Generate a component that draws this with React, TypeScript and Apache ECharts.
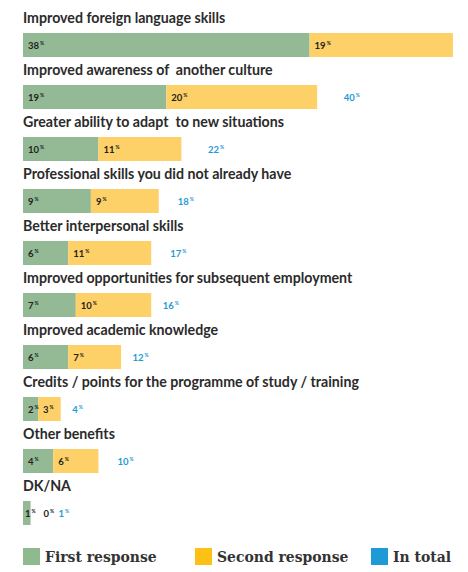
import React, { useEffect, useRef } from "react";
import * as echarts from "echarts";

const categories = [
  "Improved foreign language skills",
  "Improved awareness of  another culture",
  "Greater ability to adapt  to new situations",
  "Professional skills you did not already have",
  "Better interpersonal skills",
  "Improved opportunities for subsequent employment",
  "Improved academic knowledge",
  "Credits / points for the programme of study / training",
  "Other benefits",
  "DK/NA",
];
const firstResponse = [38, 19, 10, 9, 6, 7, 6, 2, 4, 1];
const secondResponse = [19, 20, 11, 9, 11, 10, 7, 3, 6, 0];
const inTotal = [57, 40, 22, 18, 17, 16, 12, 4, 10, 1];

const GREEN = "#93b995";
const YELLOW = "#fdd068";
const BLUE = "#1e9ad6";
const LEG_GREEN = "#8fba90";
const LEG_YELLOW = "#fdc116";

const valueLabel = (color: string) => ({
  show: true,
  position: "insideLeft" as const,
  distance: 5,
  formatter: (p: any) => `{v|${p.value}}{p|%}`,
  rich: {
    v: { fontSize: 9.5, fontWeight: "bold", color, fontFamily: "Lato" },
    p: { fontSize: 5, fontWeight: "bold", color, fontFamily: "Lato", padding: [0, 0, 5, 1] },
  },
});

export default function App() {
  const ref = useRef<HTMLDivElement>(null);
  useEffect(() => {
    if (!ref.current) return;
    const chart = echarts.init(ref.current, undefined, { renderer: "svg" });
    const legendText = {
      fontFamily: "DejaVu Serif Condensed",
      fontWeight: "bold",
      fontSize: 15.5,
      color: "#333",
    };
    const firstData = firstResponse.map((v) =>
      v <= 1 ? { value: v, label: { offset: [-3, 0] } } : v
    );
    const secondData = secondResponse.map((v) =>
      v === 0 ? { value: v, label: { offset: [8, 0] } } : v
    );
    const totalData = inTotal.map((v, i) =>
      firstResponse[i] + secondResponse[i] <= 1 ? { value: v, label: { offset: [9, 0] } } : v
    );
    chart.setOption({
      animation: false,
      grid: { left: 23, right: 0, top: 19, bottom: 33, containLabel: false },
      xAxis: {
        type: "value",
        min: 0,
        max: 59,
        show: false,
      },
      yAxis: {
        type: "category",
        data: categories,
        inverse: true,
        axisLine: { show: false },
        axisTick: { show: false },
        axisLabel: {
          inside: true,
          interval: 0,
          showMinLabel: true,
          showMaxLabel: true,
          hideOverlap: false,
          margin: 0,
          align: "left",
          verticalAlign: "middle",
          formatter: (v: string) => `{t|${v}}\n{g| }`,
          rich: {
            t: {
              fontFamily: "Lato",
              fontWeight: "bold",
              fontSize: 14.2,
              color: "#2b2b2b",
              lineHeight: 14,
            },
            g: { fontSize: 1, lineHeight: 56, height: 56 },
          },
        },
      },
      legend: [
        {
          data: [{ name: "First response", itemStyle: { color: LEG_GREEN } }],
          left: 18,
          bottom: 2,
          itemWidth: 17,
          itemHeight: 17,
          textStyle: legendText,
          icon: "rect",
        },
        {
          data: [{ name: "Second response", itemStyle: { color: LEG_YELLOW } }],
          left: 190,
          bottom: 2,
          itemWidth: 17,
          itemHeight: 17,
          textStyle: legendText,
          icon: "rect",
        },
        {
          data: [{ name: "In total", itemStyle: { color: BLUE } }],
          left: 366,
          bottom: 2,
          itemWidth: 17,
          itemHeight: 17,
          textStyle: legendText,
          icon: "rect",
        },
      ],
      series: [
        {
          name: "First response",
          type: "bar",
          stack: "resp",
          data: firstData,
          barWidth: 24,
          itemStyle: { color: GREEN },
          label: valueLabel("#222"),
        },
        {
          name: "Second response",
          type: "bar",
          stack: "resp",
          data: secondData,
          barWidth: 24,
          itemStyle: { color: YELLOW },
          label: valueLabel("#222"),
        },
        {
          name: "In total",
          type: "bar",
          data: totalData,
          barWidth: 24,
          barGap: "-100%",
          z: 1,
          itemStyle: { color: "rgba(0,0,0,0)" },
          label: {
            show: true,
            position: "right",
            distance: 19,
            formatter: (p: any) => `{v|${p.value}}{p|%}`,
            rich: {
              v: { fontSize: 9.5, fontWeight: "bold", color: BLUE, fontFamily: "Lato" },
              p: { fontSize: 5, fontWeight: "bold", color: BLUE, fontFamily: "Lato", padding: [0, 0, 5, 1] },
            },
          },
        },
      ],
    });
    return () => chart.dispose();
  }, []);
  return (
    <div
      ref={ref}
      style={{ position: "fixed", left: 0, top: 0, width: 468, height: 572, background: "#fff" }}
    />
  );
}
